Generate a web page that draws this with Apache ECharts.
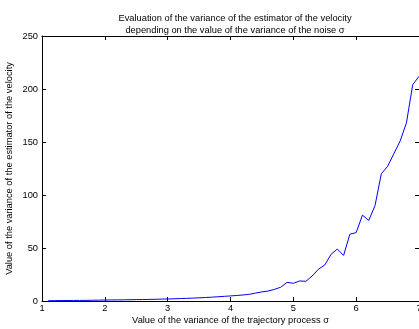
<!DOCTYPE html>
<html>
<head>
<meta charset="utf-8">
<script src="https://cdn.jsdelivr.net/npm/echarts@6/dist/echarts.min.js"></script>
<style>
  html, body { margin: 0; padding: 0; background: #fff; }
  #chart { width: 419px; height: 329px; }
</style>
</head>
<body>
<div id="chart"></div>
<script>
// sigma values of the trajectory process
var sigmas = [1.1, 1.2, 1.3, 1.4, 1.5, 1.6, 1.7, 1.8, 1.9, 2.0,
  2.1, 2.2, 2.3, 2.4, 2.5, 2.6, 2.7, 2.8, 2.9, 3.0,
  3.1, 3.2, 3.3, 3.4, 3.5, 3.6, 3.7, 3.8, 3.9, 4.0,
  4.1, 4.2, 4.3, 4.4, 4.5, 4.6, 4.7, 4.8, 4.9, 5.0,
  5.1, 5.2, 5.3, 5.4, 5.5, 5.6, 5.7, 5.8, 5.9, 6.0,
  6.1, 6.2, 6.3, 6.4, 6.5, 6.6, 6.7, 6.8, 6.9, 7.0];
// variance of the velocity estimator
var variances = [0.3, 0.35, 0.4, 0.45, 0.5, 0.55, 0.6, 0.7, 0.8, 0.9,
  1.0, 1.05, 1.1, 1.2, 1.3, 1.4, 1.5, 1.6, 1.8, 1.9,
  2.1, 2.3, 2.5, 2.7, 3.0, 3.3, 3.6, 4.0, 4.4, 4.8,
  5.2, 5.7, 6.3, 7.5, 8.6, 9.4, 11, 13, 17.6, 16.7,
  18.9, 18.6, 23.6, 30, 34, 44, 49, 43, 63, 64.5,
  81, 76, 90, 120, 127, 139, 151, 168, 204, 212];

var xTicks = [1, 2, 3, 4, 5, 6, 7];
var yTicks = [0, 50, 100, 150, 200, 250];

var points = sigmas.map(function (s, i) { return [s, variances[i]]; });

var font = 'Liberation Sans, Arial, sans-serif';
var fs = 9.3;
var axisLine = { show: true, onZero: false, lineStyle: { color: '#000', width: 1 } };
var tick = { show: true, inside: true, length: 4, lineStyle: { color: '#000' } };

var chart = echarts.init(document.getElementById('chart'));
chart.setOption({
  animation: false,
  title: {
    text: 'Evaluation of the variance of the estimator of the velocity\ndepending on the value of the variance of the noise σ',
    left: 230,
    top: 7,
    textAlign: 'center',
    textStyle: { fontFamily: font, fontSize: fs, fontWeight: 'normal', color: '#000', lineHeight: 12 }
  },
  grid: { left: 42, top: 36, right: 0, bottom: 28, containLabel: false, outerBoundsMode: 'none' },
  xAxis: [{
    type: 'value',
    min: xTicks[0], max: xTicks[xTicks.length - 1], interval: 1,
    position: 'bottom',
    axisLine: axisLine, axisTick: tick, splitLine: { show: false },
    axisLabel: { color: '#000', fontFamily: font, fontSize: fs, margin: 3 },
    name: 'Value of the variance of the trajectory process σ',
    nameLocation: 'middle', nameGap: 15, nameMoveOverlap: false,
    nameTextStyle: { color: '#000', fontFamily: font, fontSize: fs }
  }, {
    type: 'value',
    min: xTicks[0], max: xTicks[xTicks.length - 1], interval: 1,
    position: 'top',
    axisLine: axisLine, axisTick: tick, splitLine: { show: false },
    axisLabel: { show: false }
  }],
  yAxis: [{
    type: 'value',
    min: yTicks[0], max: yTicks[yTicks.length - 1], interval: 50,
    position: 'left',
    axisLine: axisLine, axisTick: tick, splitLine: { show: false },
    axisLabel: { color: '#000', fontFamily: font, fontSize: fs, margin: 4 },
    name: 'Value of the variance of the estimator of the velocity',
    nameLocation: 'middle', nameGap: 28, nameRotate: 90, nameMoveOverlap: false,
    nameTextStyle: { color: '#000', fontFamily: font, fontSize: fs }
  }, {
    type: 'value',
    min: yTicks[0], max: yTicks[yTicks.length - 1], interval: 50,
    position: 'right',
    axisLine: axisLine, axisTick: tick, splitLine: { show: false },
    axisLabel: { show: false }
  }],
  series: [{
    type: 'line',
    data: points,
    showSymbol: false,
    lineStyle: { color: '#0000ff', width: 1 },
    itemStyle: { color: '#0000ff' }
  }]
});
</script>
</body>
</html>
